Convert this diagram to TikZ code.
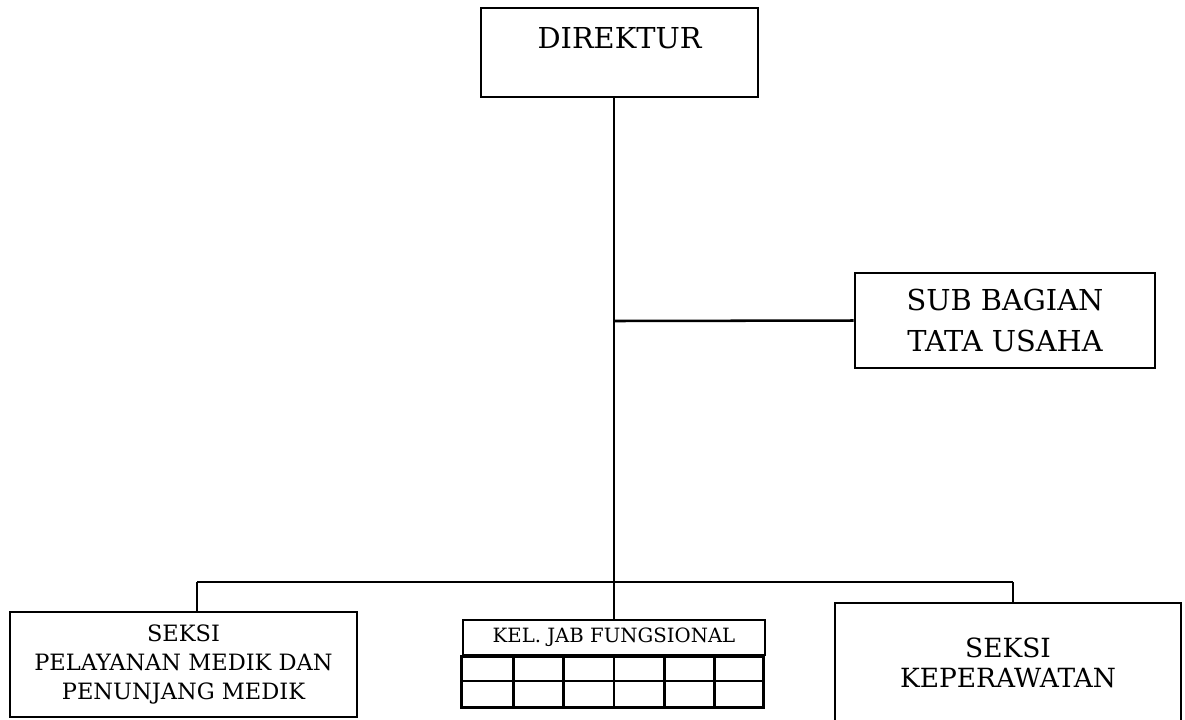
\documentclass[tikz,border=0pt]{standalone}
\usepackage{fontspec}
\setmainfont{DejaVu Serif}
\usepackage{tikz}

\begin{document}
\begin{tikzpicture}[x=0.025cm, y=-0.025cm, line width=1.8pt,
    box/.style={rectangle, draw, inner sep=0pt, align=center}]
  \useasboundingbox (0,0) rectangle (1185,719);

  \node (dir) at (619.5,52.5) [box, minimum width=6.925cm, minimum height=2.225cm,
      text height=14.9pt, text depth=21.3pt, font=\fontsize{20.5}{24}\selectfont] {DIREKTUR};
  \node (tu) at (1005,320.5) [box, minimum width=7.5cm, minimum height=2.375cm,
      font=\fontsize{20.5}{28.5}\selectfont] {SUB BAGIAN\\TATA USAHA};
  \node (pm) at (183.5,664.5) [box, minimum width=8.675cm, minimum height=2.625cm,
      font=\fontsize{16}{20.3}\selectfont] {SEKSI\\PELAYANAN MEDIK DAN\\PENUNJANG MEDIK};
  \node (kel) at (614,637.5) [box, minimum width=7.55cm, minimum height=0.875cm,
      font=\fontsize{14}{16}\selectfont] {KEL. JAB FUNGSIONAL};
  \node (kp) at (1008,662.5) [box, minimum width=8.65cm, minimum height=2.975cm,
      font=\fontsize{18.8}{21.3}\selectfont] {SEKSI\\KEPERAWATAN};

  % tabel di bawah kel. jab fungsional
  \draw (kel.south west) rectangle ++(302,51);
  \draw (463,681) -- (765,681);
  \foreach \i in {1,...,5}
    \draw ({463+\i*50.33},655) -- ({463+\i*50.33},706);

  \coordinate (tap) at (614,321);
  \coordinate (bus) at (614,582);
  \coordinate (busL) at (197,582);
  \coordinate (busR) at (1013,582);

  \draw (bus |- dir.south) -- (bus) -- (kel.north);
  \draw (tap) -- (tu.west);
  \draw (busL) -- (busR);
  \draw (busL) -- (busL |- pm.north);
  \draw (busR) -- (busR |- kp.north);
\end{tikzpicture}
\end{document}
